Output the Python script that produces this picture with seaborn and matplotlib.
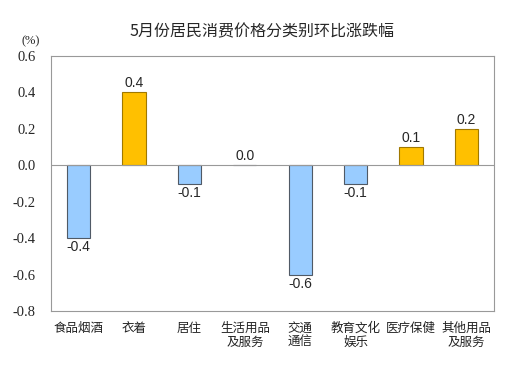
import pandas as pd
import numpy as np

import seaborn as sns
import matplotlib.pyplot as plt

categories = ['食品烟酒', '衣着', '居住', '生活用品\n及服务', '交通\n通信', '教育文化\n娱乐', '医疗保健', '其他用品\n及服务']
values = [-0.4, 0.4, -0.1, 0.0, -0.6, -0.1, 0.1, 0.2]
yticks = [0.6, 0.4, 0.2, 0.0, -0.2, -0.4, -0.6, -0.8]

df = pd.DataFrame({'cat': categories, 'val': values})
df['sign'] = np.where(df['val'] > 0, 'up', 'down')

sns.set_style('white')
plt.rcParams['font.family'] = ['Noto Sans CJK SC', 'DejaVu Sans']

fig = plt.figure(figsize=(5.29, 3.78), dpi=100)
ax = fig.add_axes([0.0964, 0.177, 0.8375, 0.675])

sns.barplot(data=df, x='cat', y='val', hue='sign', dodge=False,
            palette={'up': '#FFC000', 'down': '#99CCFF'}, saturation=1,
            width=0.42, legend=False, ax=ax)
# edge colour by bar direction (patches are grouped by hue, not in df order)
for p in ax.patches:
    p.set_edgecolor('#a07800' if p.get_height() > 0 else '#505a66')
    p.set_linewidth(0.8)

for i, v in enumerate(values):
    off = 0.012 if v >= 0 else -0.012
    ax.text(i, v + off, f'{v:.1f}', ha='center', va='bottom' if v >= 0 else 'top',
            fontsize=10, family=['Liberation Sans'])

ax.axhline(0, color='#999999', lw=0.8)
ax.set_ylim(-0.8, 0.6)
ax.set_xlim(-0.5, 7.5)
ax.set_yticks(yticks)
ax.set_yticklabels([f'{t:.1f}' for t in yticks], family='Liberation Serif', fontsize=10.5)
ax.set_xticks(range(len(categories)))
ax.set_xticklabels(categories, fontsize=9, linespacing=1.1, color='#222222')
ax.set_xlabel('')
ax.set_ylabel('')
ax.tick_params(axis='y', direction='in', length=3, color='#999999', pad=11)
ax.tick_params(axis='x', length=0, pad=8)
for s in ax.spines.values():
    s.set_color('#999999')
    s.set_linewidth(0.8)

fig.text(0.04, 0.882, '(%)', family='Liberation Serif', fontsize=9)
fig.text(0.495, 0.905, '5月份居民消费价格分类别环比涨跌幅', ha='center', fontsize=11.5)

fig.savefig('out.png', dpi=100)
